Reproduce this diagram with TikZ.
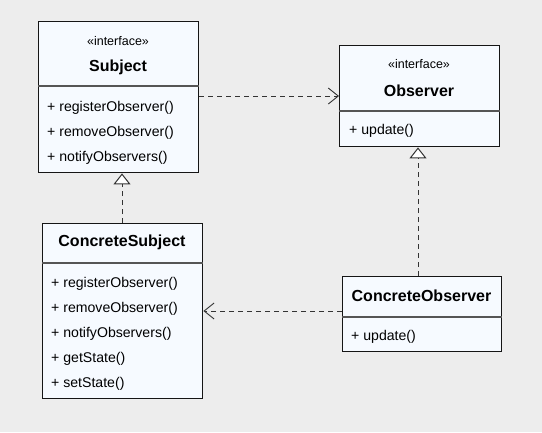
\documentclass[tikz,border=0pt]{standalone}
\usepackage{fontspec}
\setmainfont{Liberation Sans}
\usetikzlibrary{arrows.meta}
\definecolor{bgc}{HTML}{EDEDED}
\definecolor{boxc}{HTML}{F6FAFF}
\definecolor{linec}{HTML}{151515}
\definecolor{sepc}{HTML}{555555}
\definecolor{dashc}{HTML}{333333}
\begin{document}
\begin{tikzpicture}[x=1pt,y=-1pt,
  cls/.style={draw=linec, fill=boxc, line width=1.4pt, inner sep=0pt, anchor=north west},
  sepl/.style={draw=sepc, line width=1.2pt},
  meth/.style={anchor=west, inner sep=0pt, font=\fontsize{14.1}{16}\selectfont, text=black},
  ttl/.style={inner sep=0pt, font=\fontsize{16}{18}\selectfont\bfseries, text=black},
  stereo/.style={inner sep=0pt, font=\fontsize{12.5}{14}\selectfont, text=black},
  dep/.style={draw=dashc, line width=0.9pt, dash pattern=on 5pt off 4pt, -{Straight Barb[length=10pt,width=16pt,line width=0.9pt]}},
  real/.style={draw=dashc, line width=0.9pt, dash pattern=on 5pt off 4pt, -{Triangle[open,length=11pt,width=17pt,line width=1pt,fill=white]}}
]
\useasboundingbox[fill=bgc] (0,0) rectangle (542,432);

% Subject
\node[cls, minimum width=160pt, minimum height=151pt] (subj) at (38,21) {};
\draw[sepl] (subj.west |- 0,86) -- (subj.east |- 0,86);
\node[stereo] (subjst) at (118,41) {«interface»};
\node[ttl] (subjt) at (118,67) {Subject};
\node[meth] (s1) at (47,108) {+ registerObserver()};
\node[meth] (s2) at (47,133) {+ removeObserver()};
\node[meth] (s3) at (47,158) {+ notifyObservers()};

% Observer
\node[cls, minimum width=160pt, minimum height=101pt] (obs) at (339,45) {};
\draw[sepl] (obs.west |- 0,111) -- (obs.east |- 0,111);
\node[stereo] (obsst) at (419,64) {«interface»};
\node[ttl] (obst) at (419,91) {Observer};
\node[meth] (o1) at (349,131) {+ update()};

% ConcreteSubject
\node[cls, minimum width=160pt, minimum height=175pt] (csub) at (42,223) {};
\draw[sepl] (csub.west |- 0,263) -- (csub.east |- 0,263);
\node[ttl] (csubt) at (122,242) {ConcreteSubject};
\node[meth] (c1) at (51,284) {+ registerObserver()};
\node[meth] (c2) at (51,309) {+ removeObserver()};
\node[meth] (c3) at (51,334) {+ notifyObservers()};
\node[meth] (c4) at (51,359) {+ getState()};
\node[meth] (c5) at (51,384) {+ setState()};

% ConcreteObserver
\node[cls, minimum width=159pt, minimum height=75pt] (cobs) at (342,276) {};
\draw[sepl] (cobs.west |- 0,317) -- (cobs.east |- 0,317);
\node[ttl] (cobst) at (421.5,296) {ConcreteObserver};
\node[meth] (co1) at (351,337) {+ update()};

% connectors
\draw[dep] (subj.east |- 0,96) -- (obs.west |- 0,96);
\draw[dep] (cobs.west |- 0,311) -- (csub.east |- 0,311);
\draw[real] (csub.north -| 122,0) -- (subj.south -| 122,0);
\draw[real] (cobs.north -| 418,0) -- (obs.south -| 418,0);
\end{tikzpicture}
\end{document}
